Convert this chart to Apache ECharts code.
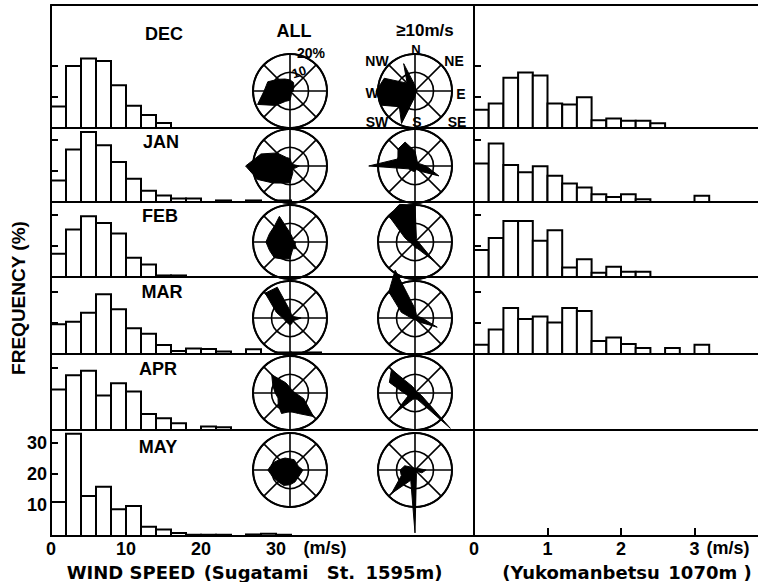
<!DOCTYPE html>
<html>
<head>
<meta charset="utf-8">
<title>Wind speed frequency and wind roses</title>
<script src="https://cdn.jsdelivr.net/npm/echarts@6/dist/echarts.min.js"></script>
<style>
  html, body { margin: 0; padding: 0; background: #fff; }
  #chart { width: 758px; height: 582px; }
</style>
</head>
<body>
<div id="chart"></div>
<script>
const months = ['DEC', 'JAN', 'FEB', 'MAR', 'APR', 'MAY'];

// frequency (%) per 2 m/s class, Sugatami St. 1595m
const sugatamiDec = [6.9, 20.0, 22.4, 21.6, 13.8, 7.2, 4.2, 1.6];
const sugatamiJan = [6.9, 16.9, 22.6, 18.3, 12.9, 7.5, 3.6, 2.1, 1.1, 1.1, 0, 0.5, 0, 0.5, 0, 0.5];
const sugatamiFeb = [7.5, 15.3, 19.6, 17.4, 14.0, 6.2, 4.0, 0.5, 0.5];
const sugatamiMar = [9.6, 10.4, 13.3, 19.3, 14.4, 8.3, 6.5, 2.9, 1.0, 1.8, 1.6, 0.8, 0, 1.5, 0, 0.5, 0.5, 0.5];
const sugatamiApr = [13.1, 17.7, 19.1, 11.1, 15.1, 12.4, 5.2, 3.8, 2.2, 0, 1.1, 0.9];
const sugatamiMay = [11.0, 33.0, 12.9, 15.9, 8.6, 9.7, 3.0, 2.1, 1.0, 0.4, 0.4, 0.4, 0, 0.5, 0.7, 0.4];

// frequency (%) per 0.2 m/s class, Yukomanbetsu 1070m
const yukoDec = [5.9, 7.9, 16.2, 17.9, 16.9, 7.9, 7.6, 9.9, 2.5, 3.1, 2.3, 2.3, 1.5];
const yukoJan = [12.4, 18.9, 11.9, 9.6, 11.5, 8.5, 6.0, 4.7, 2.5, 1.6, 2.5, 0.9, 0, 0, 0, 2.0];
const yukoFeb = [8.7, 12.6, 18.1, 18.1, 11.7, 15.1, 3.1, 5.7, 1.4, 3.3, 1.7, 1.7];
const yukoMar = [3.0, 7.9, 14.8, 11.3, 12.1, 10.2, 14.8, 13.9, 4.2, 5.3, 3.2, 1.9, 0, 1.9, 0, 3.0];

// wind roses, % by direction: N, NNE, NE, ... NNW
const directions = ['N','NNE','NE','ENE','E','ESE','SE','SSE','S','SSW','SW','WSW','W','WNW','NW','NNW'];
const allDec = [6, 5, 3, 2, 2, 1, 1, 2, 5, 6, 11, 19, 14, 13, 9, 7];
const allJan = [4, 2, 2, 2, 5, 3, 2, 4, 9, 10, 13, 19, 24, 17, 10, 5];
const allFeb = [5, 3, 2, 2, 3, 3, 5, 4, 9, 10, 12, 12, 13, 12, 12, 15];
const allMar = [4, 2, 2, 2, 6, 3, 2, 3, 4, 3, 3, 3, 4, 8, 19, 18];
const allApr = [3, 2, 2, 2, 3, 8, 18, 12, 10, 12, 9, 7, 8, 10, 14, 6];
const allMay = [6, 6, 5, 5, 7, 6, 6, 7, 8, 9, 9, 10, 12, 10, 8, 7];
const strongDec = [3, 1, 1, 1, 1, 1, 1, 1, 3, 19, 12, 20, 21, 18, 6, 16];
const strongJan = [8, 3, 2, 3, 6, 14, 4, 2, 3, 3, 3, 4, 25, 10, 13, 14];
const strongFeb = [20, 2, 1, 1, 2, 3, 15, 4, 3, 2, 2, 2, 3, 6, 20, 22];
const strongMar = [5, 2, 1, 2, 4, 13, 3, 1, 1, 1, 1, 1, 2, 8, 20, 28];
const strongApr = [2, 1, 1, 1, 2, 4, 27, 4, 3, 4, 16, 4, 6, 15, 18, 4];
const strongMay = [1, 1, 1, 2, 6, 4, 1, 2, 34, 6, 18, 8, 8, 6, 2, 1];

const sugatami = [sugatamiDec, sugatamiJan, sugatamiFeb, sugatamiMar, sugatamiApr, sugatamiMay];
const yuko = [yukoDec, yukoJan, yukoFeb, yukoMar, [], []];
const roseAll = [allDec, allJan, allFeb, allMar, allApr, allMay];
const roseStrong = [strongDec, strongJan, strongFeb, strongMar, strongApr, strongMay];

// layout
const rowTop = [5, 128, 202, 277, 354, 430];
const rowBottom = [128, 202, 277, 354, 430, 536];
const roseY = [91, 166, 242, 318, 393, 470];
const roseR = 37;          // px for 20 %
const pxPerPct = 3.1;
const FONT = '"Liberation Sans", Arial, sans-serif';
const WIDE = '"DejaVu Sans", "Liberation Sans", sans-serif';
const black = '#000';

const chart = echarts.init(document.getElementById('chart'), null, { renderer: 'svg' });

function binItems(values, width) {
    return values
        .map((v, i) => [i * width, (i + 1) * width, v])
        .filter(d => d[2] > 0);
}

function renderBin(params, api) {
    const p0 = api.coord([api.value(0), api.value(2)]);
    const p1 = api.coord([api.value(1), 0]);
    return {
        type: 'rect',
        shape: { x: p0[0], y: p0[1], width: p1[0] - p0[0], height: p1[1] - p0[1] },
        style: { fill: '#fff', stroke: black, lineWidth: 2 }
    };
}

function roseData(values) {
    const pts = values.map((v, i) => [v, i * 360 / directions.length]);
    pts.push([values[0], 360]);
    return pts;
}

const grid = [], xAxis = [], yAxis = [], series = [];
const polar = [], angleAxis = [], radiusAxis = [];

months.forEach((m, i) => {
    const h = rowBottom[i] - rowTop[i];
    const last = i === months.length - 1;

    // left panel (Sugatami) and right panel (Yukomanbetsu)
    grid.push({ left: 51, width: 423, top: rowTop[i], height: h });
    grid.push({ left: 474, width: 284, top: rowTop[i], height: h });

    xAxis.push({
        gridIndex: 2 * i, type: 'value', min: 0, max: 423 / 7.5,
        axisLine: { lineStyle: { color: black, width: 2 } },
        axisTick: { show: false },
        splitLine: { show: false },
        axisLabel: last
            ? { customValues: [0, 10, 20, 30], color: black, fontSize: 18, fontWeight: 'bold', fontFamily: FONT, margin: 4 }
            : { show: false }
    });
    xAxis.push({
        gridIndex: 2 * i + 1, type: 'value', min: 0, max: 284 / 73.5,
        axisLine: { lineStyle: { color: black, width: 2 } },
        axisTick: last
            ? { customValues: [1, 2, 3], inside: true, length: 8, lineStyle: { color: black, width: 2 } }
            : { show: false },
        splitLine: { show: false },
        axisLabel: last
            ? { customValues: [0, 1, 2, 3], color: black, fontSize: 18, fontWeight: 'bold', fontFamily: FONT, margin: 4 }
            : { show: false }
    });

    yAxis.push({
        gridIndex: 2 * i, type: 'value', min: 0, max: h / pxPerPct,
        axisLine: { show: true, lineStyle: { color: black, width: 2 } },
        axisTick: { customValues: last ? [10, 20, 30] : [10, 20], inside: true, length: 7, lineStyle: { color: black, width: 2 } },
        splitLine: { show: false },
        axisLabel: last
            ? { customValues: [10, 20, 30], color: black, fontSize: 18, fontWeight: 'bold', fontFamily: FONT, margin: 4 }
            : { show: false }
    });
    yAxis.push({
        gridIndex: 2 * i + 1, type: 'value', min: 0, max: h / pxPerPct,
        axisLine: { show: true, lineStyle: { color: black, width: 2 } },
        axisTick: yuko[i].length
            ? { customValues: [10, 20], inside: true, length: 7, lineStyle: { color: black, width: 2 } }
            : { show: false },
        splitLine: { show: false },
        axisLabel: { show: false }
    });

    series.push({
        type: 'custom', xAxisIndex: 2 * i, yAxisIndex: 2 * i,
        data: binItems(sugatami[i], 2), renderItem: renderBin, silent: true
    });
    if (yuko[i].length) {
        series.push({
            type: 'custom', xAxisIndex: 2 * i + 1, yAxisIndex: 2 * i + 1,
            data: binItems(yuko[i], 0.2), renderItem: renderBin, silent: true
        });
    }
});

// top frame line
[0, 1].forEach(g => {
    xAxis.push({
        gridIndex: g, type: 'value', position: 'top', min: 0, max: 1,
        axisLine: { lineStyle: { color: black, width: 2 } },
        axisTick: { show: false }, axisLabel: { show: false }, splitLine: { show: false }
    });
});

// wind roses: all winds (x=290) and >=10 m/s (x=415)
// each rose = a visible frame polar (20 % ring) + a hidden, twice as large polar
// with the same scale that carries the petals, so long spikes are not clipped
[[290, roseAll], [415, roseStrong]].forEach(([cx, roses]) => {
    roses.forEach((values, i) => {
        const frame = polar.length;
        polar.push({ center: [cx, roseY[i]], radius: roseR });
        angleAxis.push({
            polarIndex: frame, type: 'value', min: 0, max: 360, interval: 45,
            startAngle: 90, clockwise: true,
            axisLine: { lineStyle: { color: black, width: 2 } },
            axisTick: { show: false }, axisLabel: { show: false },
            splitLine: { show: true, lineStyle: { color: black, width: 1.6 } }
        });
        radiusAxis.push({
            polarIndex: frame, type: 'value', min: 0, max: 20, interval: 10,
            axisLine: { show: false }, axisTick: { show: false }, axisLabel: { show: false },
            splitLine: { show: true, lineStyle: { color: black, width: 1.6 } }
        });

        const petals = polar.length;
        polar.push({ center: [cx, roseY[i]], radius: roseR * 2 });
        angleAxis.push({
            polarIndex: petals, type: 'value', min: 0, max: 360,
            startAngle: 90, clockwise: true,
            axisLine: { show: false }, axisTick: { show: false },
            axisLabel: { show: false }, splitLine: { show: false }
        });
        radiusAxis.push({
            polarIndex: petals, type: 'value', min: 0, max: 40,
            axisLine: { show: false }, axisTick: { show: false },
            axisLabel: { show: false }, splitLine: { show: false }
        });
        series.push({
            type: 'line', coordinateSystem: 'polar', polarIndex: petals,
            data: roseData(values), symbol: 'none', clip: false, silent: true,
            lineStyle: { color: black, width: 1 },
            areaStyle: { color: black, opacity: 1 }
        });
    });
});

function label(text, x, y, size, extra, family) {
    return Object.assign({
        type: 'text', x: x, y: y, silent: true,
        style: {
            text: text, fill: black,
            font: 'bold ' + size + 'px ' + (family || FONT),
            align: 'center', verticalAlign: 'middle',
            textAlign: 'center', textVerticalAlign: 'middle'
        }
    }, extra || {});
}

const monthPos = [[164, 34], [161, 142], [160, 216], [162, 292], [158, 369], [158, 447]];
const graphic = months.map((m, i) => label(m, monthPos[i][0], monthPos[i][1], 18));
graphic.push(
    label('ALL', 294, 31, 18),
    label('\u226510m/s', 425, 30, 17),
    label('20%', 311, 53, 14),
    label('10', 299, 72, 13, { rotation: 0.3 }),
    label('N', 416, 49, 13), label('NE', 454, 61, 14), label('E', 461, 94, 14),
    label('SE', 457, 122, 14), label('S', 417, 122, 14), label('SW', 377, 122, 14),
    label('W', 372, 93, 14), label('NW', 377, 61, 14),
    label('FREQUENCY (%)', 18, 298, 19, { rotation: Math.PI / 2 }),
    label('(m/s)', 325, 548, 18),
    label('(m/s)', 728, 548, 18),
    label('WIND SPEED', 131, 572, 18, null, WIDE),
    label('(Sugatami', 256, 572, 18, null, WIDE),
    label('St.', 341, 572, 18, null, WIDE),
    label('1595m)', 404, 572, 18, null, WIDE),
    label('(Yukomanbetsu', 581, 572, 18, null, WIDE),
    label('1070m )', 710, 572, 18, null, WIDE)
);

chart.setOption({
    animation: false,
    backgroundColor: '#fff',
    grid: grid,
    xAxis: xAxis,
    yAxis: yAxis,
    polar: polar,
    angleAxis: angleAxis,
    radiusAxis: radiusAxis,
    series: series,
    graphic: graphic
});
</script>
</body>
</html>
